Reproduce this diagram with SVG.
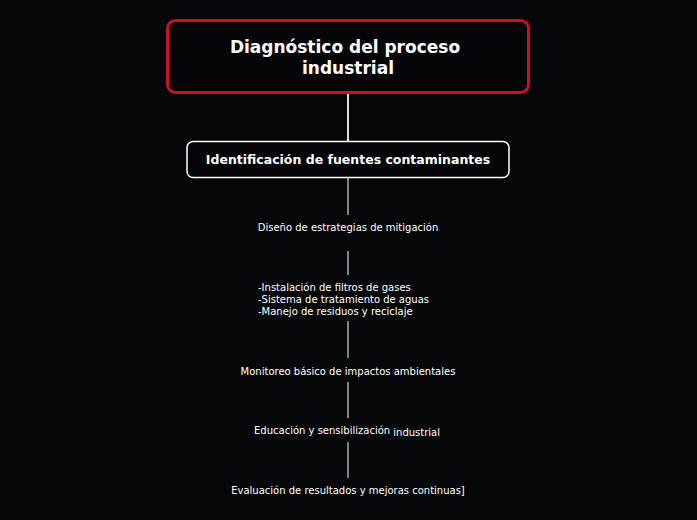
<svg xmlns="http://www.w3.org/2000/svg" width="697" height="520" viewBox="0 0 697 520">
<style>
text{font-family:"DejaVu Sans",Verdana,sans-serif;fill:#fff}
.s{font-size:10px}
.c{stroke:#fff;stroke-width:1}
</style>
<rect width="697" height="520" fill="#060709"/>
<g id="connectors">
<line x1="348" y1="93" x2="348" y2="141" stroke="#ddd" stroke-width="2"/>
<line class="c" x1="348" y1="178" x2="348" y2="215"/>
<line class="c" x1="348" y1="251" x2="348" y2="275"/>
<line class="c" x1="348" y1="321" x2="348" y2="358"/>
<line class="c" x1="348" y1="382" x2="348" y2="418"/>
<line class="c" x1="348" y1="442" x2="348" y2="478"/>
</g>
<g id="root">
<rect x="167.5" y="20.5" width="361" height="72" rx="8" fill="#050507" stroke="#c8102e" stroke-width="3"/>
<text x="345" y="53" font-size="17" font-weight="bold" text-anchor="middle">Diagnóstico del proceso</text>
<text x="348" y="74" font-size="17" font-weight="bold" text-anchor="middle">industrial</text>
</g>
<g id="n1">
<rect x="187" y="141.5" width="322" height="36" rx="6" fill="#050507" stroke="#fff" stroke-width="1.5"/>
<text x="348" y="164" font-size="12.5" font-weight="bold" text-anchor="middle">Identificación de fuentes contaminantes</text>
</g>
<g id="n2"><text class="s" x="348" y="231" text-anchor="middle">Diseño de estrategias de mitigación</text></g>
<g id="n3"><text class="s" x="258" y="291">-Instalación de filtros de gases</text>
<text class="s" x="258" y="303">-Sistema de tratamiento de aguas</text>
<text class="s" x="258" y="315">-Manejo de residuos y reciclaje</text></g>
<g id="n4"><text class="s" x="348" y="375" text-anchor="middle">Monitoreo básico de impactos ambientales</text></g>
<g id="n5"><text class="s" x="254" y="434">Educación y sensibilización <tspan dy="1.5">industrial</tspan></text></g>
<g id="n6"><text class="s" x="348" y="494" text-anchor="middle">Evaluación de resultados y mejoras continuas]</text></g>
</svg>
